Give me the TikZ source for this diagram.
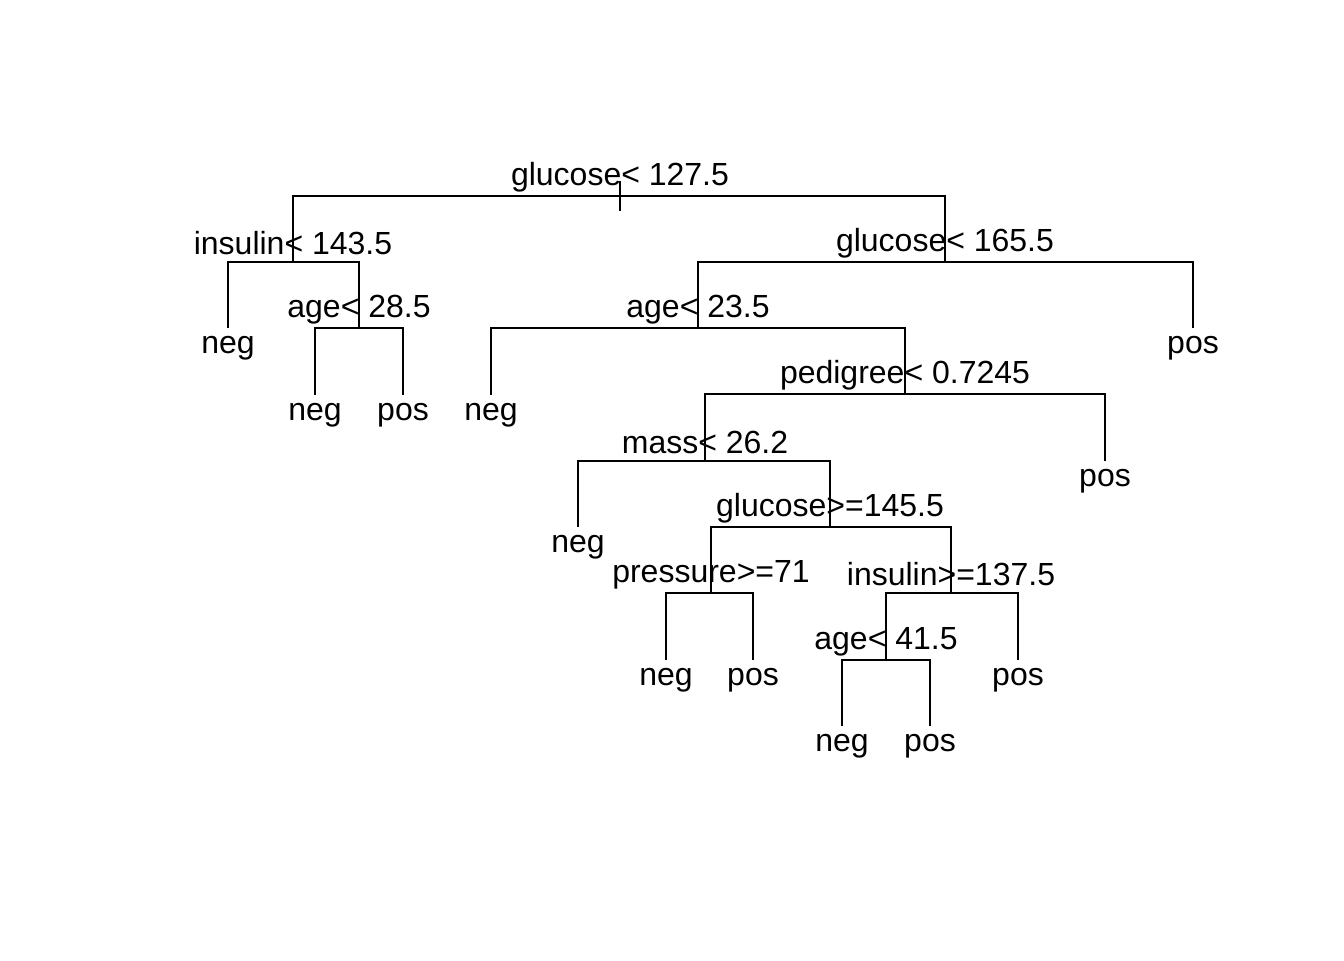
\documentclass[tikz,border=0pt]{standalone}
\usepackage{fontspec}
\setmainfont{Liberation Sans}
\begin{document}
\begin{tikzpicture}[x=0.75pt, y=-0.75pt, line width=1.1pt,
        split/.style={font = {\fontsize{24}{28}\selectfont}, black, anchor=base, inner sep=0pt, yshift=7.8pt},
        splitflat/.style={split, yshift=-1.8pt},
        leaf/.style={font = {\fontsize{24}{28}\selectfont}, black, anchor=base, inner sep=0pt, yshift=-18.75pt}]
            \useasboundingbox (0, 0) rectangle (1344, 960);

            % split points
            \coordinate (root) at (620, 196);
            \coordinate (ins) at (293, 262);
            \coordinate (agea) at (359, 328);
            \coordinate (glub) at (945, 262);
            \coordinate (ageb) at (698, 328);
            \coordinate (ped) at (905, 394);
            \coordinate (mass) at (705, 461);
            \coordinate (gluc) at (830, 527);
            \coordinate (pres) at (711, 593);
            \coordinate (insb) at (951, 593);
            \coordinate (agec) at (886, 660);

            % leaves
            \coordinate (nega) at (228, 328);
            \coordinate (negb) at (315, 395);
            \coordinate (posa) at (403, 395);
            \coordinate (negc) at (491, 395);
            \coordinate (negd) at (578, 527);
            \coordinate (nege) at (666, 660);
            \coordinate (posb) at (753, 660);
            \coordinate (negf) at (842, 726);
            \coordinate (posc) at (930, 726);
            \coordinate (posd) at (1018, 660);
            \coordinate (pose) at (1105, 461);
            \coordinate (posf) at (1193, 328);

            % branches
            \draw (root) ++(0, -15) -- ++(0, 30);
            \foreach \p/\a/\b in {root/ins/glub, ins/nega/agea, agea/negb/posa,
                    glub/ageb/posf, ageb/negc/ped, ped/mass/pose, mass/negd/gluc,
                    gluc/pres/insb, pres/nege/posb, insb/agec/posd, agec/negf/posc}
                \draw (\a) -- (\a |- \p) -- (\b |- \p) -- (\b);

            \node[split] (troot) at (root) {glucose< 127.5};
            \node[splitflat] (tins) at (ins) {insulin< 143.5};
            \node[split] (tagea) at (agea) {age< 28.5};
            \node[split] (tglub) at (glub) {glucose< 165.5};
            \node[split] (tageb) at (ageb) {age< 23.5};
            \node[split] (tped) at (ped) {pedigree< 0.7245};
            \node[splitflat] (tmass) at (mass) {mass< 26.2};
            \node[split] (tgluc) at (gluc) {glucose>=145.5};
            \node[split] (tpres) at (pres) {pressure>=71};
            \node[splitflat] (tinsb) at (insb) {insulin>=137.5};
            \node[split] (tagec) at (agec) {age< 41.5};

            \node[leaf] (tnega) at (nega) {neg};
            \node[leaf] (tnegb) at (negb) {neg};
            \node[leaf] (tposa) at (posa) {pos};
            \node[leaf] (tnegc) at (negc) {neg};
            \node[leaf] (tnegd) at (negd) {neg};
            \node[leaf] (tnege) at (nege) {neg};
            \node[leaf] (tposb) at (posb) {pos};
            \node[leaf] (tnegf) at (negf) {neg};
            \node[leaf] (tposc) at (posc) {pos};
            \node[leaf] (tposd) at (posd) {pos};
            \node[leaf] (tpose) at (pose) {pos};
            \node[leaf] (tposf) at (posf) {pos};
        \end{tikzpicture}
\end{document}
